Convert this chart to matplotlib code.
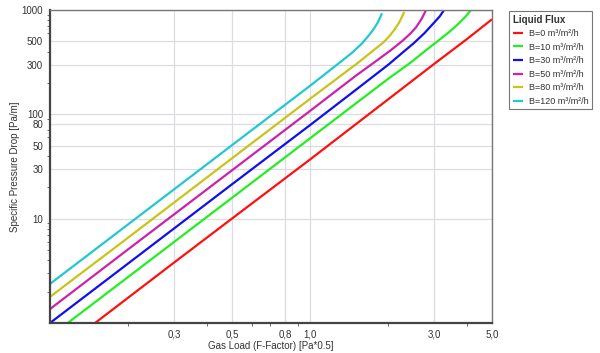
import matplotlib
matplotlib.use("Agg")
import matplotlib.pyplot as plt
from matplotlib.ticker import FixedLocator, FixedFormatter, NullFormatter
import numpy as np

plt.rcParams['font.family'] = ['Liberation Sans', 'DejaVu Sans']

# gas load F-factor [Pa^0.5] and specific pressure drop [Pa/m]
f_b0 = [0.149, 0.3, 0.5, 1.0, 2.0, 3.0, 4.0, 5.0]
dp_b0 = [1.0, 3.8, 10.0, 37, 140, 305, 525, 815]

f_b10 = [0.117, 0.2, 0.5, 1.0, 2.0, 2.46, 2.8, 3.16, 3.45, 3.7, 3.95, 4.15]
dp_b10 = [1.0, 2.77, 15.8, 59, 220, 320, 415, 525, 625, 730, 860, 1000]

f_b30 = [0.1, 0.2, 0.5, 1.0, 1.5, 2.0, 2.25, 2.5, 2.75, 3.0, 3.15, 3.27]
dp_b30 = [1.0, 3.73, 21.3, 79, 172, 300, 385, 480, 600, 760, 870, 1000]

f_b50 = [0.1, 0.2, 0.5, 1.0, 1.5, 1.81, 2.05, 2.25, 2.42, 2.55, 2.68, 2.79]
dp_b50 = [1.36, 5.1, 29, 108, 235, 330, 415, 500, 590, 680, 820, 1000]

f_b80 = [0.1, 0.2, 0.5, 1.0, 1.535, 1.75, 1.914, 2.02, 2.1, 2.2, 2.30]
dp_b80 = [1.78, 6.6, 37.8, 141, 315, 410, 490, 565, 640, 760, 957]

f_b120 = [0.1, 0.2, 0.5, 1.0, 1.27, 1.45, 1.585, 1.68, 1.75, 1.82, 1.89]
dp_b120 = [2.37, 8.85, 50.5, 188, 300, 390, 480, 570, 650, 760, 930]

series = [
    ("B=0 m³/m²/h", f_b0, dp_b0, "#ff1010"),
    ("B=10 m³/m²/h", f_b10, dp_b10, "#22ee22"),
    ("B=30 m³/m²/h", f_b30, dp_b30, "#1010ee"),
    ("B=50 m³/m²/h", f_b50, dp_b50, "#cc22aa"),
    ("B=80 m³/m²/h", f_b80, dp_b80, "#c8c41a"),
    ("B=120 m³/m²/h", f_b120, dp_b120, "#22c8d0"),
]

x_ticks = [0.3, 0.5, 0.8, 1.0, 3.0, 5.0]
x_labels = ["0,3", "0,5", "0,8", "1,0", "3,0", "5,0"]
y_ticks = [10, 30, 50, 80, 100, 300, 500, 1000]
y_labels = ["10", "30", "50", "80", "100", "300", "500", "1000"]

fig = plt.figure(figsize=(6.0, 3.53), dpi=100)
ax = fig.add_axes([50 / 600, 1 - 323 / 353, 442 / 600, 313 / 353])

for name, f, dp, c in series:
    ax.plot(f, dp, color=c, lw=1.6, label=name, solid_capstyle='butt')

ax.set_xscale('log')
ax.set_yscale('log')
ax.set_xlim(0.1, 5.0)
ax.set_ylim(1, 1000)

ax.xaxis.set_major_locator(FixedLocator(x_ticks))
ax.xaxis.set_major_formatter(FixedFormatter(x_labels))
ax.yaxis.set_major_locator(FixedLocator(y_ticks))
ax.yaxis.set_major_formatter(FixedFormatter(y_labels))
ax.xaxis.set_minor_formatter(NullFormatter())
ax.yaxis.set_minor_formatter(NullFormatter())

ax.grid(True, which='major', color='#dcdce2', lw=0.9)
ax.set_axisbelow(True)
ax.tick_params(which='major', length=0, labelsize=7, colors='#333333', pad=5)
ax.tick_params(which='minor', length=2, width=0.6, color='#555555')

for side in ['left', 'bottom']:
    ax.spines[side].set_color('#444444')
    ax.spines[side].set_linewidth(1.6)
for side in ['top', 'right']:
    ax.spines[side].set_color('#777777')
    ax.spines[side].set_linewidth(1.0)

ax.set_xlabel("Gas Load (F-Factor) [Pa*0.5]", fontsize=7, color='#333333', labelpad=1)
fig.text(15 / 600, 1 - 166.5 / 353, "Specific Pressure Drop [Pa/m]", fontsize=7,
         color='#333333', rotation=90, ha='center', va='center')

leg = ax.legend(loc='upper left', bbox_to_anchor=(509 / 600, 1 - 11 / 353),
                bbox_transform=fig.transFigure, title="Liquid Flux",
                fontsize=6.5, title_fontsize=7, frameon=True, fancybox=False,
                edgecolor='#555555', handlelength=1.2, handletextpad=0.6,
                labelspacing=0.5, borderpad=0.4, borderaxespad=0)
leg._legend_box.align = "left"
leg.get_title().set_fontweight('bold')
leg.get_title().set_color('#333333')
for t in leg.get_texts():
    t.set_color('#333333')
leg.get_frame().set_linewidth(0.8)

fig.savefig("out.png", dpi=100, facecolor='white')
